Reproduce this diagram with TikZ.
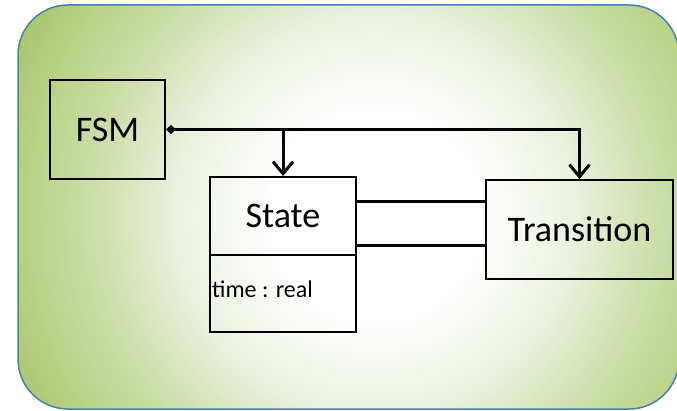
\documentclass[tikz,border=0pt]{standalone}
\usepackage{fontspec}
\setmainfont{Carlito}
\usetikzlibrary{arrows.meta}

\definecolor{glowpale}{HTML}{EAF1DE}
\definecolor{glowmid}{HTML}{CCDEA9}
\definecolor{glowside}{HTML}{B9D387}
\definecolor{glowedge}{HTML}{A9C46C}
\definecolor{frameblue}{HTML}{4A7EBB}

% radii given at their real size
\pgfdeclareradialshading{greenglow}{\pgfpoint{0bp}{0bp}}{%
  color(0bp)=(white); color(105bp)=(white); color(200bp)=(glowpale);
  color(280bp)=(glowmid); color(345bp)=(glowside); color(400bp)=(glowedge);
  color(440bp)=(glowedge)}

\newcommand\boxfont{\fontsize{36}{40}\selectfont}
\newcommand\attrfont{\fontsize{24}{28}\selectfont}

\begin{document}
\begin{tikzpicture}[x=1pt,y=-1pt]
    \tikzstyle{box}=[draw, line width=2pt, inner sep=0pt, font=\boxfont]
    \tikzstyle{link}=[line width=3pt]
    \tikzstyle{barb}=[-{Straight Barb[length=12pt,width=20pt]}]

    \useasboundingbox (0,0) rectangle (677,411);

    % background panel
    \begin{scope}
        \clip[rounded corners=50pt] (18,5) rectangle (679,409);
        \node[inner sep=0pt] (glow) at (375,215) {\pgfuseshading{greenglow}};
    \end{scope}
    \draw[frameblue, line width=1.5pt, rounded corners=50pt] (18,5) rectangle (679,409);

    % classes
    \node[box, minimum width=115pt, minimum height=99pt] (fsm) at (107.5,129.5) {FSM};
    \node[box, minimum width=146pt, minimum height=78pt] (state) at (283,216) {State};
    \node[box, minimum width=146pt, minimum height=77pt] (attrs) at (283,293.5) {};
    \node[anchor=west, inner sep=0pt, font=\attrfont] (time) at ([xshift=3pt,yshift=4.5pt]attrs.west) {time : real};
    \node[box, minimum width=187pt, minimum height=99pt] (trans) at (579.5,229.5) {Transition};

    % composition
    \coordinate (split) at (fsm.east -| state.north);
    \draw[link, {Diamond[length=10pt,width=9pt]}-{Straight Barb[length=12pt,width=20pt]}] (fsm.east) -| (trans.north);
    \draw[link, barb] (split) -- (state.north);

    % associations
    \draw[link] ([yshift=14pt]state.east) -- ([yshift=14pt]state.east -| trans.west);
    \draw[link] ([yshift=-30pt]state.east) -- ([yshift=-30pt]state.east -| trans.west);
\end{tikzpicture}
\end{document}
